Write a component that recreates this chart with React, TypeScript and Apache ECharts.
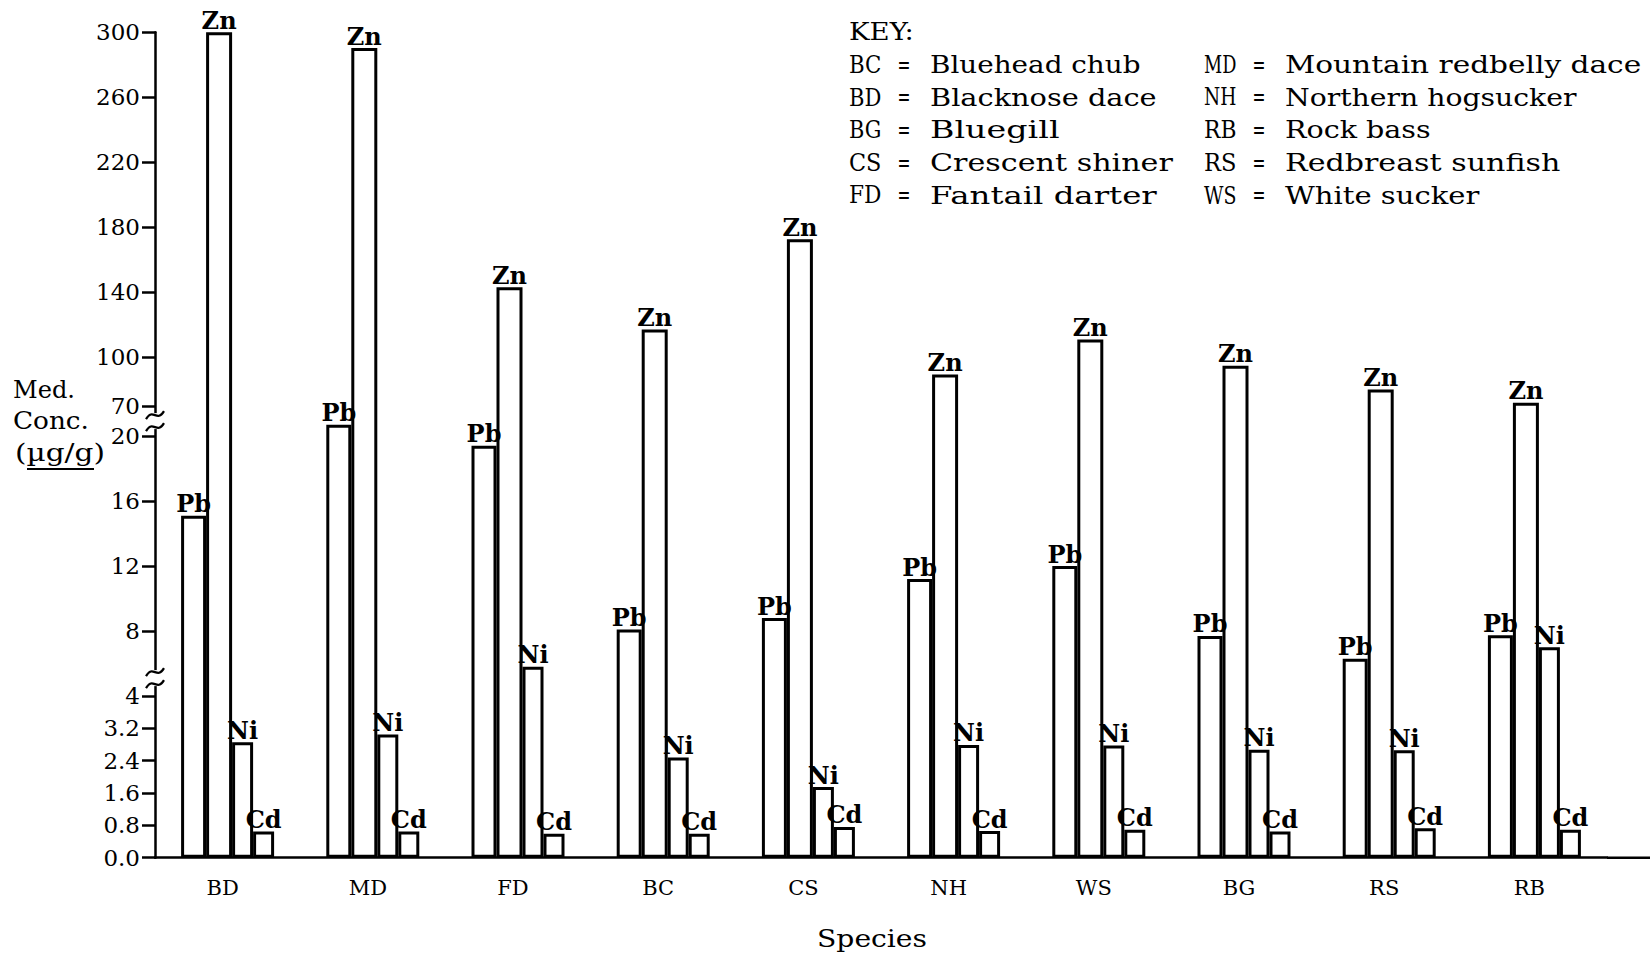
import React, { useEffect, useRef } from "react";
import * as echarts from "echarts";

// ---- data ----
const species = ["BD", "MD", "FD", "BC", "CS", "NH", "WS", "BG", "RS", "RB"];
const metals = ["Pb", "Zn", "Ni", "Cd"];
const pb = [15.1, 20.7, 19.4, 8.1, 8.8, 11.2, 12.0, 7.7, 6.3, 7.75];
const zn = [300, 290.3, 143.1, 117.1, 172.7, 89.4, 111, 94.9, 80.2, 72];
const ni = [2.86, 3.05, 5.8, 2.48, 1.75, 2.79, 2.78, 2.67, 2.66, 7.0];
const cd = [0.65, 0.65, 0.59, 0.59, 0.76, 0.66, 0.69, 0.65, 0.73, 0.69];
const tickValues = [0, 0.8, 1.6, 2.4, 3.2, 4, 8, 12, 16, 20, 70, 100, 140, 180, 220, 260, 300];
const tickTexts = ["0.0", "0.8", "1.6", "2.4", "3.2", "4", "8", "12", "16", "20", "70", "100", "140", "180", "220", "260", "300"];
const keyLeftCodes = ["BC", "BD", "BG", "CS", "FD"];
const keyLeftNames = ["Bluehead chub", "Blacknose dace", "Bluegill", "Crescent shiner", "Fantail darter"];
const keyRightCodes = ["MD", "NH", "RB", "RS", "WS"];
const keyRightNames = ["Mountain redbelly dace", "Northern hogsucker", "Rock bass", "Redbreast sunfish", "White sucker"];

// ---- broken-axis scale (piecewise linear) ----
const PX_LOW = 40.4; // per unit, 0..4
const PX_MID = 16.25; // per unit, 4..20(+)
const PX_HIGH = 1.625; // per unit, 70..300
const GAP = 30; // between 20 and 70
function toV(v: number): number {
  if (v <= 4) return v * PX_LOW;
  if (v < 50) return 4 * PX_LOW + (v - 4) * PX_MID;
  return 4 * PX_LOW + 16 * PX_MID + GAP + (v - 70) * PX_HIGH;
}

const SERIF = "'DejaVu Serif', 'Liberation Serif', serif";
const W = 1652;
const H = 956;
const GRID_LEFT = 155;
const GRID_RIGHT = 45;
const GRID_BOTTOM = 98.3;
const Y_MAX = toV(300);
const GRID_TOP = H - GRID_BOTTOM - Y_MAX;
const AXIS_Y = H - GRID_BOTTOM;
const CH = 16.2; // typewriter character pitch in the key

function yPix(v: number) {
  return AXIS_Y - toV(v);
}

let measureCtx: CanvasRenderingContext2D | null = null;
function measure(text: string, font: string) {
  if (!measureCtx) measureCtx = document.createElement("canvas").getContext("2d");
  measureCtx!.font = font;
  return measureCtx!.measureText(text).width || 1;
}

// text stretched horizontally to a typewriter width
function fitText(text: string, x: number, y: number, size: number, width: number, align = "left", weight = "normal") {
  const font = `${weight} ${size}px ${SERIF}`;
  const sx = width / measure(text, font);
  return {
    type: "text",
    x,
    y,
    scaleX: sx,
    style: { text, font, fill: "#000", align, verticalAlign: "middle" },
  };
}

export default function App() {
  const ref = useRef<HTMLDivElement>(null);
  useEffect(() => {
    document.body.style.margin = "0";
    const chart = echarts.init(ref.current!, null, { renderer: "svg" });
    const tickV = tickValues.map(toV);
    const seriesData = [pb, zn, ni, cd];
    const widths = [25, 26, 21, 21];

    const breakAt = (yMid: number) => {
      const items: any[] = [
        {
          type: "rect",
          shape: { x: GRID_LEFT - 4, y: yMid - 8, width: 8, height: 16 },
          style: { fill: "#fff" },
          z: 100,
        },
      ];
      [yMid - 6, yMid + 6].forEach((yy) => {
        items.push({
          type: "bezierCurve",
          shape: {
            x1: GRID_LEFT - 9,
            y1: yy + 4,
            cpx1: GRID_LEFT - 2,
            cpy1: yy - 8,
            cpx2: GRID_LEFT + 2,
            cpy2: yy + 8,
            x2: GRID_LEFT + 9,
            y2: yy - 4,
          },
          style: { stroke: "#000", lineWidth: 2.2, fill: null },
          z: 101,
        });
      });
      return items;
    };

    const KX1 = 849;
    const KX2 = 1204;
    const rowY = (i: number) => 64.3 + i * 32.65;
    const keyItems: any[] = [fitText("KEY:", KX1, 31.6, 25, 4 * CH)];
    [
      [KX1, keyLeftCodes, keyLeftNames],
      [KX2, keyRightCodes, keyRightNames],
    ].forEach(([kx, codes, names]: any) => {
      codes.forEach((c: string, i: number) => {
        keyItems.push(fitText(c, kx, rowY(i), 25, 2 * CH));
        keyItems.push(fitText("=", kx + 3 * CH, rowY(i), 25, CH * 0.8));
        keyItems.push(fitText(names[i], kx + 5 * CH, rowY(i), 25, names[i].length * CH));
      });
    });

    const graphic: any[] = [
      // x-axis extension to the right
      {
        type: "line",
        shape: { x1: W - GRID_RIGHT, y1: AXIS_Y, x2: 1650, y2: AXIS_Y },
        style: { stroke: "#000", lineWidth: 2.5 },
      },
      ...keyItems,
      // y-axis title
      fitText("Med.", 13, 390, 24, 62),
      fitText("Conc.", 13, 421, 24, 76),
      fitText("(µg/g)", 15, 453, 24, 90),
      {
        type: "line",
        shape: { x1: 27, y1: 469, x2: 94, y2: 469 },
        style: { stroke: "#000", lineWidth: 2 },
      },
      // x-axis title
      fitText("Species", 872, 938, 25, 110, "center"),
      // axis breaks
      ...breakAt(yPix(4) - 18),
      ...breakAt((yPix(20) + yPix(70)) / 2),
    ];

    const option: any = {
      animation: false,
      backgroundColor: "#fff",
      grid: { left: GRID_LEFT, right: GRID_RIGHT, top: GRID_TOP, bottom: GRID_BOTTOM },
      xAxis: {
        type: "category",
        data: species,
        axisLine: { lineStyle: { color: "#000", width: 2.5 } },
        axisTick: { show: false },
        axisLabel: {
          color: "#000",
          fontFamily: SERIF,
          fontSize: 21,
          margin: 20,
          padding: [0, 10, 0, 0],
        },
      },
      yAxis: {
        type: "value",
        min: 0,
        max: Y_MAX,
        splitLine: { show: false },
        axisLine: { show: true, lineStyle: { color: "#000", width: 2.5 } },
        axisTick: {
          show: true,
          length: 13,
          lineStyle: { color: "#000", width: 2.5 },
          customValues: tickV,
        },
        axisLabel: {
          customValues: tickV,
          color: "#000",
          fontFamily: SERIF,
          fontSize: 23,
          margin: 15,
          formatter: (val: number) => {
            const i = tickV.findIndex((t) => Math.abs(t - val) < 0.01);
            return i >= 0 ? tickTexts[i] : "";
          },
        },
      },
      series: metals.map((m, k) => ({
        type: "bar",
        name: m,
        data: seriesData[k].map(toV),
        barWidth: widths[k],
        barGap: "0%",
        itemStyle: { color: "#fff", borderColor: "#000", borderWidth: 3 },
        label: {
          show: true,
          position: "top",
          distance: 0,
          formatter: m,
          color: "#000",
          fontFamily: SERIF,
          fontSize: 24,
          fontWeight: "bold",
        },
      })),
      graphic,
    };
    chart.setOption(option);
    return () => chart.dispose();
  }, []);
  return <div ref={ref} style={{ width: W, height: H }} />;
}
